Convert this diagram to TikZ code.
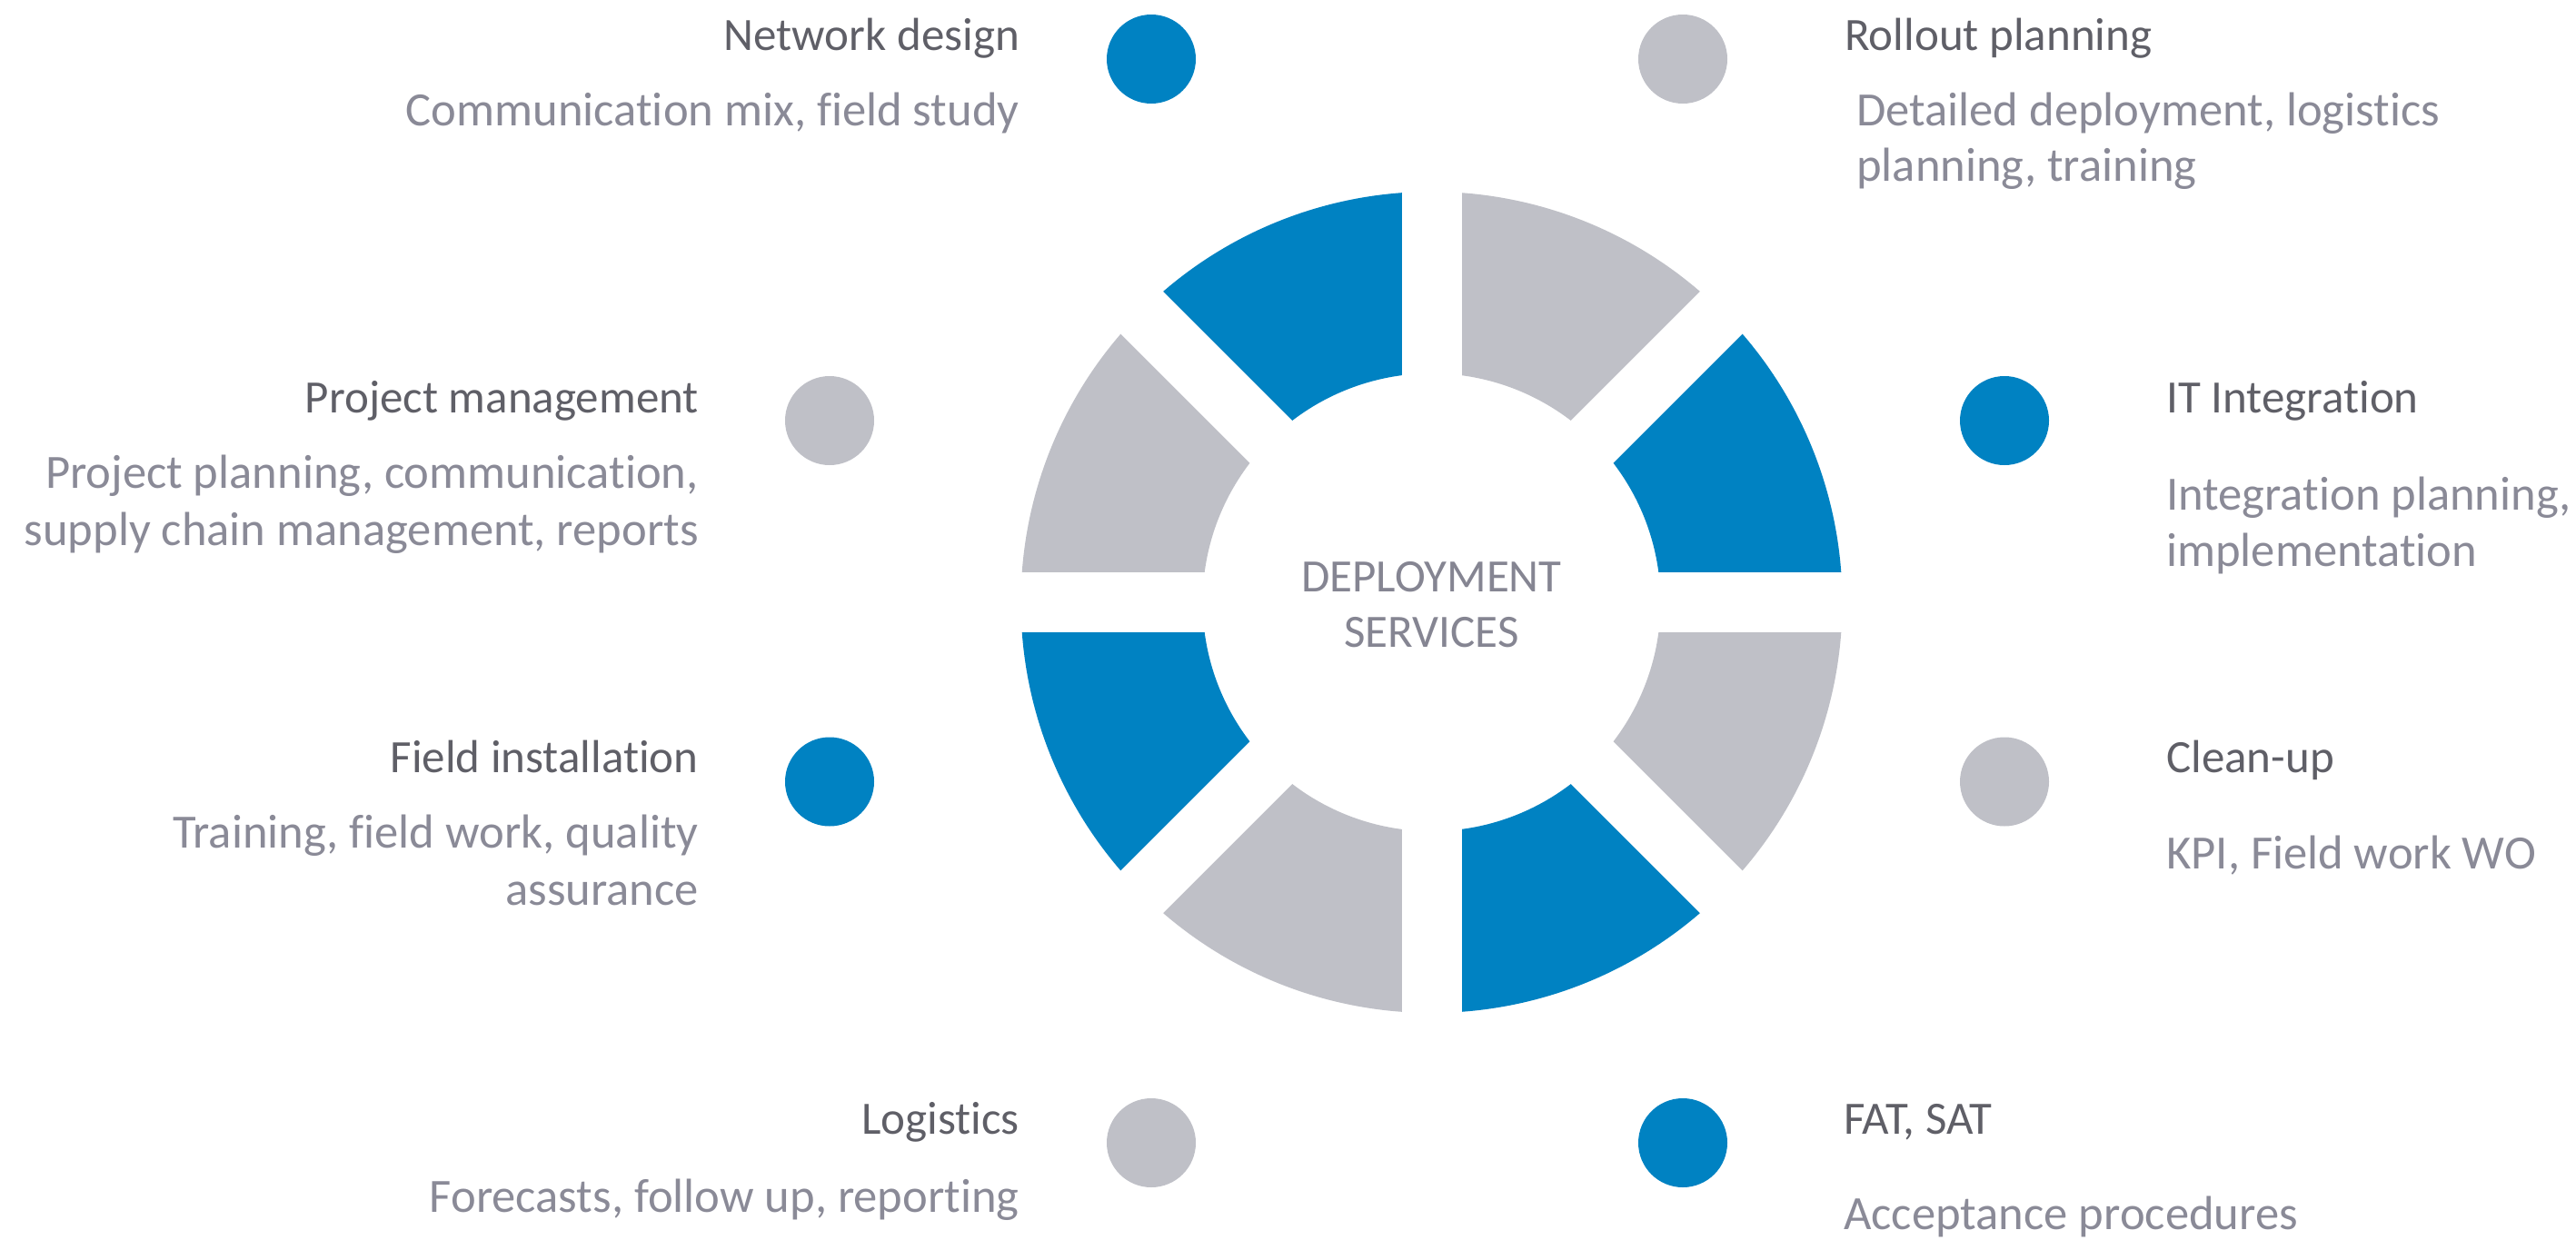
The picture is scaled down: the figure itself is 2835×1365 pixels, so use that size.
\documentclass[tikz,border=0pt]{standalone}
\usepackage{fontspec}
\setmainfont{Carlito}[Ligatures={NoCommon}]
\definecolor{segblue}{HTML}{0082C2}
\definecolor{seggray}{HTML}{BFC0C7}
\definecolor{titlecol}{HTML}{5F5F67}
\definecolor{desccol}{HTML}{8A8A97}
\definecolor{centercol}{HTML}{858592}
\begin{document}
\begin{tikzpicture}[x=1pt,y=1pt,
  dot/.style={circle,inner sep=0pt,minimum size=98pt},
  ttl/.style={inner sep=0pt,text=titlecol,font=\fontsize{51}{61}\selectfont},
  dsc/.style={inner sep=0pt,text=desccol,font=\fontsize{52.6}{62}\selectfont},
  ctr/.style={inner sep=0pt,text=centercol,font=\fontsize{51}{61}\selectfont,anchor=base},
  gap/.style={white,line width=66pt}
]
\useasboundingbox (0,0) rectangle (2835,-1365);

% ring segments
\begin{scope}[shift={(1575.5,-663)}]
  \foreach \a/\c in {0/segblue,45/seggray,90/segblue,135/seggray,180/segblue,225/seggray,270/segblue,315/seggray}{
    \pgfmathsetmacro{\b}{\a+45}
    \fill[\c] (\a:452) arc[start angle=\a, end angle=\b, radius=452]
      -- (\b:252) arc[start angle=\b, end angle=\a, radius=252] -- cycle;
  }
  \draw[gap] (0:475) -- (180:475);
  \draw[gap] (45:475) -- (225:475);
  \draw[gap] (90:475) -- (270:475);
  \draw[gap] (135:475) -- (315:475);
\end{scope}

\node[ctr] (c1) at (1575.5,-651) {DEPLOYMENT};
\node[ctr] (c2) at (1575.5,-712) {SERVICES};

% dots
\node[dot,fill=segblue] (d1) at (1267,-65) {};
\node[dot,fill=seggray] (d2) at (1852,-65) {};
\node[dot,fill=seggray] (d3) at (913,-463) {};
\node[dot,fill=segblue] (d4) at (2206,-463) {};
\node[dot,fill=segblue] (d5) at (913,-860.5) {};
\node[dot,fill=seggray] (d6) at (2206,-860.5) {};
\node[dot,fill=seggray] (d7) at (1267,-1258) {};
\node[dot,fill=segblue] (d8) at (1852,-1258) {};

% texts
\node[ttl,anchor=base east] (t1) at (1122,-55.5) {Network design};
\node[dsc,anchor=base east] (s1) at (1122,-138.3) {Communication mix, field study};

\node[ttl,anchor=base west] (t2) at (2030,-55.5) {Rollout planning};
\node[dsc,anchor=base west] (s2a) at (2043,-138.3) {Detailed deployment, logistics};
\node[dsc,anchor=base west] (s2b) at (2043,-199) {planning, training};

\node[ttl,anchor=base east] (t3) at (769,-454) {Project management};
\node[dsc,anchor=base east] (s3a) at (769,-537) {Project planning, communication,};
\node[dsc,anchor=base east] (s3b) at (769,-600) {supply chain management, reports};

\node[ttl,anchor=base west] (t4) at (2384,-454) {IT Integration};
\node[dsc,anchor=base west] (s4a) at (2384,-561) {Integration planning,};
\node[dsc,anchor=base west] (s4b) at (2384,-623) {implementation};

\node[ttl,anchor=base east] (t5) at (769,-850) {Field installation};
\node[dsc,anchor=base east] (s5a) at (769,-933.5) {Training, field work, quality};
\node[dsc,anchor=base east] (s5b) at (769,-996) {assurance};

\node[ttl,anchor=base west] (t6) at (2384,-850) {Clean-up};
\node[dsc,anchor=base west] (s6) at (2384,-956) {KPI, Field work WO};

\node[ttl,anchor=base east] (t7) at (1122,-1248.5) {Logistics};
\node[dsc,anchor=base east] (s7) at (1122,-1334) {Forecasts, follow up, reporting};

\node[ttl,anchor=base west] (t8) at (2029,-1248.5) {FAT, SAT};
\node[dsc,anchor=base west] (s8) at (2029,-1353) {Acceptance procedures};
\end{tikzpicture}
\end{document}
